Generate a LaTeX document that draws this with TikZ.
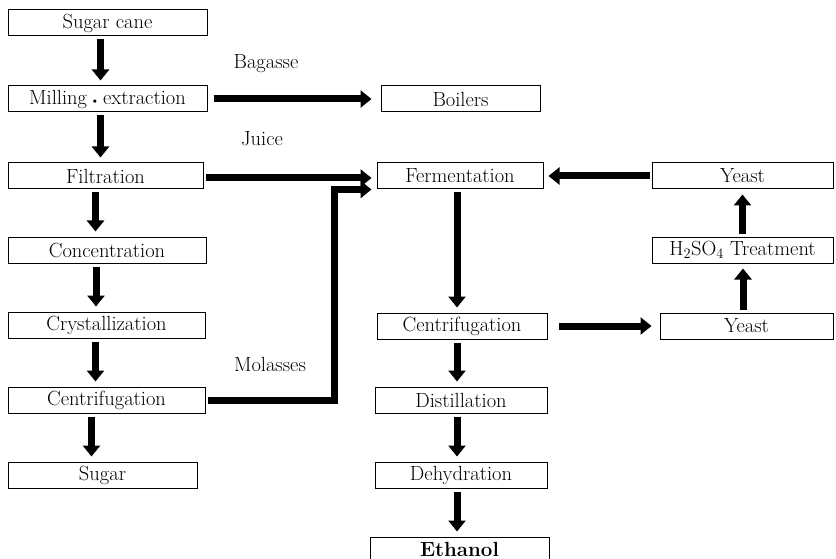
\documentclass[tikz,border=0pt]{standalone}
\usetikzlibrary{arrows.meta}

\tikzset{
  box/.style={draw,line width=1pt,minimum height=26pt,inner sep=0pt},
  flow/.style={line width=7pt,line join=miter,-{Triangle[width=17pt,length=11pt]}},
}

\begin{document}
\begin{tikzpicture}[x=1pt,y=-1pt,font=\fontsize{20.5}{24}\selectfont]
    \useasboundingbox (0,0) rectangle (836,559);
    % sugar line
	\node[box,minimum width=199pt] (sugarcane) at (107.5,23) {Sugar cane};
	\node[box,minimum width=199pt] (milling) at (107.5,99) {Milling\,{\fontsize{12}{12}\selectfont\textbullet}\,extraction};
	\node[box,minimum width=195pt] (filtration) at (105.5,176) {Filtration};
	\node[box,minimum width=198pt] (concentration) at (107,250) {Concentration};
	\node[box,minimum width=197pt] (crystallization) at (106.5,325) {Crystallization};
	\node[box,minimum width=197pt] (centrifA) at (106.5,400) {Centrifugation};
	\node[box,minimum width=189pt] (sugar) at (102.5,475) {Sugar};
    % ethanol line
	\node[box,minimum width=159pt] (boilers) at (460.5,99) {Boilers};
	\node[box,minimum width=166pt] (fermentation) at (460,176) {Fermentation};
	\node[box,minimum width=170pt] (centrifB) at (462,326) {Centrifugation};
	\node[box,minimum width=172pt] (distillation) at (461,400) {Distillation};
	\node[box,minimum width=172pt] (dehydration) at (461,475) {Dehydration};
	\node[box,minimum width=179pt,minimum height=28pt] (ethanol) at (459.5,551) {\raisebox{3pt}{\bfseries Ethanol}};
    % yeast loop
	\node[box,minimum width=181pt] (yeastA) at (742.5,176) {Yeast};
	\node[box,minimum width=181pt] (acid) at (742.5,250) {H\textsubscript{2}SO\textsubscript{4} Treatment};
	\node[box,minimum width=173pt] (yeastB) at (746.5,326) {Yeast};
    % labels
	\node (bagasse) at (266,64) {Bagasse};
	\node (juice) at (262,139) {Juice};
	\node (molasses) at (270,364) {Molasses};

	\begin{scope}[shorten <=3pt,shorten >=5pt]
	\draw[flow] ([xshift=-7pt]sugarcane.south) -- ([xshift=-7pt]sugarcane.south |- milling.north);
	\draw[flow] ([xshift=-7pt]milling.south) -- ([xshift=-7pt]milling.south |- filtration.north);
	\draw[flow] ([xshift=-10pt]filtration.south) -- ([xshift=-10pt]filtration.south |- concentration.north);
	\draw[flow] ([xshift=-11pt]concentration.south) -- ([xshift=-11pt]concentration.south |- crystallization.north);
	\draw[flow] ([xshift=-11pt]crystallization.south) -- ([xshift=-11pt]crystallization.south |- centrifA.north);
	\draw[flow] ([xshift=-15pt]centrifA.south) -- ([xshift=-15pt]centrifA.south |- sugar.north);
	\draw[flow] ([xshift=-3pt]fermentation.south) -- ([xshift=-3pt]fermentation.south |- centrifB.north);
	\draw[flow] ([xshift=-5pt]centrifB.south) -- ([xshift=-5pt]centrifB.south |- distillation.north);
	\draw[flow] ([xshift=-4pt]distillation.south) -- ([xshift=-4pt]distillation.south |- dehydration.north);
	\draw[flow] ([xshift=-4pt]dehydration.south) -- ([xshift=-4pt]dehydration.south |- ethanol.north);
	\draw[flow] ([xshift=-3.5pt]yeastB.north) -- ([xshift=-3.5pt]yeastB.north |- acid.south);
	\draw[flow] (acid.north) -- (yeastA.south);
	\end{scope}
	\draw[flow,shorten <=6pt,shorten >=9pt] (milling) -- (boilers);
	\draw[flow,shorten <=2pt,shorten >=5pt] ([yshift=-2pt]filtration.east) -- ([yshift=-2pt]fermentation.west);
	\draw[flow,shorten <=2pt,shorten >=5pt] (yeastA) -- (fermentation);
	\draw[flow,shorten <=11pt,shorten >=8pt] (centrifB) -- (yeastB);
	\draw[flow,shorten <=2pt,shorten >=5pt] (centrifA.east) -| ([xshift=-42pt]fermentation.south west) -- (fermentation.south west);
	\end{tikzpicture}
\end{document}
